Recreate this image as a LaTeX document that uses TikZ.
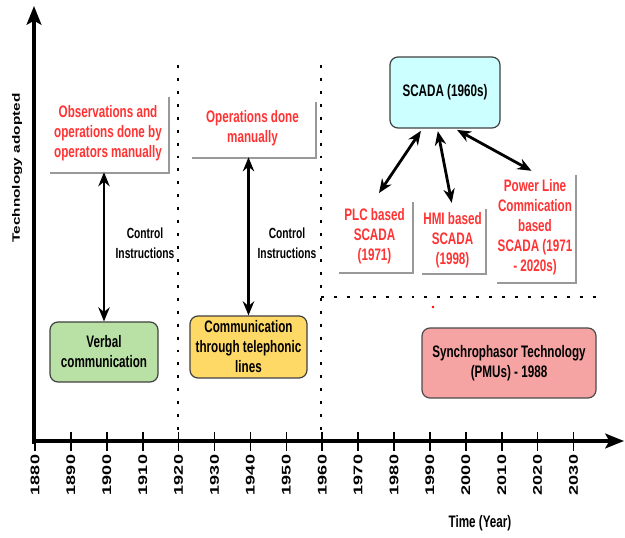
\documentclass[tikz,border=0pt]{standalone}
\usepackage{graphicx}
\usepackage{fontspec}
\usetikzlibrary{arrows.meta,shadows,calc}
\newfontfamily\diafont[FakeStretch=0.7]{Liberation Sans}
\newfontfamily\axisfont{Liberation Sans}
\newcommand{\squash}[1]{\scalebox{1}[0.7]{#1}}
\definecolor{notered}{HTML}{FF3333}
\definecolor{verbalgreen}{HTML}{B9E0A5}
\definecolor{phoneyellow}{HTML}{FFD966}
\definecolor{scadacyan}{HTML}{CCFFFF}
\definecolor{pmupink}{HTML}{F5A3A3}

\begin{document}
\begin{tikzpicture}
    [x=0.75pt,y=-0.75pt,
     note/.style={fill=white,text=notered,align=center,inner sep=1pt,
       drop shadow={shadow xshift=1.8pt,shadow yshift=-1.8pt,fill=black!40,opacity=1},
       font=\diafont\bfseries\fontsize{12.5}{15}\selectfont},
     stage/.style={draw=black!75,line width=0.9pt,rounded corners=6pt,align=center,
       font=\diafont\bfseries\fontsize{12.5}{15}\selectfont},
     ctrl/.style={align=center,inner sep=1pt,font=\diafont\bfseries\fontsize{11}{15}\selectfont},
     link/.style={line width=2.1pt,{Stealth[length=10.5pt,width=8.5pt]}-{Stealth[length=10.5pt,width=8.5pt]}},
     axisline/.style={line width=2.6pt,-{Stealth[length=14pt,width=11pt,inset=3pt]}},
     dotline/.style={line width=2.2pt,dash pattern=on 2.2pt off 7.5pt},
     yrlabel/.style={rotate=90,inner sep=0pt,font=\axisfont\bfseries\fontsize{13.5}{15}\selectfont}]
    \useasboundingbox (0,0) rectangle (625,538);

    % axes
    \coordinate (origin) at (34,441);
    \coordinate (ytip) at (34,6);
    \coordinate (xtip) at (624,441);
    \draw[axisline] ($(origin)+(0,3)$) -- (ytip);
    \draw[axisline] ($(origin)+(-2,0)$) -- (xtip);
    \foreach \yr in {1880,1890,...,2030}{
      \coordinate (t\yr) at ({35+3.59*(\yr-1880)},441);
      \draw[line width=1.2pt] ($(t\yr)+(0,-9)$) -- ($(t\yr)+(0,10)$);
      \node[yrlabel] (y\yr) at ($(t\yr)+(0,34)$) {\squash{\yr}};
    }
    \node[yrlabel,font=\axisfont\bfseries\fontsize{11.5}{13}\selectfont] (ylab) at (17,168) {\squash{Technology adopted}};
    \node[ctrl,font=\diafont\bfseries\fontsize{12.5}{15}\selectfont] (xlab) at (480,523) {Time (Year)};

    % era separators
    \coordinate (sep1top) at (178,65);
    \coordinate (sep1bot) at (178,440);
    \coordinate (sep2top) at (321,65);
    \coordinate (sep2bot) at (321,440);
    \coordinate (sep3end) at (597,297);
    \draw[dotline] (sep1top) -- (sep1bot);
    \draw[dotline] (sep2top) -- (sep2bot);
    \draw[dotline] (sep2top |- sep3end) -- (sep3end);
    \fill[red] (433,307) circle (1.3);

    % first era
    \node[note,minimum width=90pt,minimum height=57.75pt] (manual) at (108,133.5) {Observations and\\operations done by\\operators manually};
    \node[stage,fill=verbalgreen,minimum width=81pt,minimum height=45pt] (verbal) at (104,352) {Verbal\\communication};
    \draw[link] (verbal.north) -- (verbal.north |- manual.south);
    \node[ctrl] (ctrl1) at (145,243) {Control\\Instructions};

    % second era
    \node[note,minimum width=93.75pt,minimum height=42.75pt] (opsdone) at (252.5,128.5) {Operations done\\manually};
    \node[stage,fill=phoneyellow,minimum width=87.75pt,minimum height=46.5pt] (phone) at (248.5,347) {Communication\\through telephonic\\lines};
    \draw[link] (phone.north) -- (phone.north |- opsdone.south);
    \node[ctrl] (ctrl2) at (287,243) {Control\\Instructions};

    % third era
    \node[stage,fill=scadacyan,minimum width=82.5pt,minimum height=53.25pt] (scada) at (445,92.5) {SCADA (1960s)};
    \node[note,minimum width=56.25pt,minimum height=54pt] (plc) at (374.5,236) {PLC based\\SCADA\\(1971)};
    \node[note,minimum width=48.75pt,minimum height=49.5pt] (hmi) at (452.5,240) {HMI based\\SCADA\\(1998)};
    \node[note,minimum width=60pt,minimum height=81.75pt] (plcomm) at (535,227.5) {Power Line\\Commication\\based\\SCADA (1971\\- 2020s)};
    \draw[link,shorten <=2pt,shorten >=6pt] (scada.238) -- (plc.north);
    \draw[link,shorten <=2pt,shorten >=3pt] (scada.258) -- (hmi.north);
    \draw[link,shorten <=2pt,shorten >=3pt] (scada.285) -- (plcomm.north);
    \node[stage,draw=black!70,fill=pmupink,minimum width=130.5pt,minimum height=52.5pt] (pmu) at (509,363) {Synchrophasor Technology\\(PMUs) - 1988};
\end{tikzpicture}
\end{document}
